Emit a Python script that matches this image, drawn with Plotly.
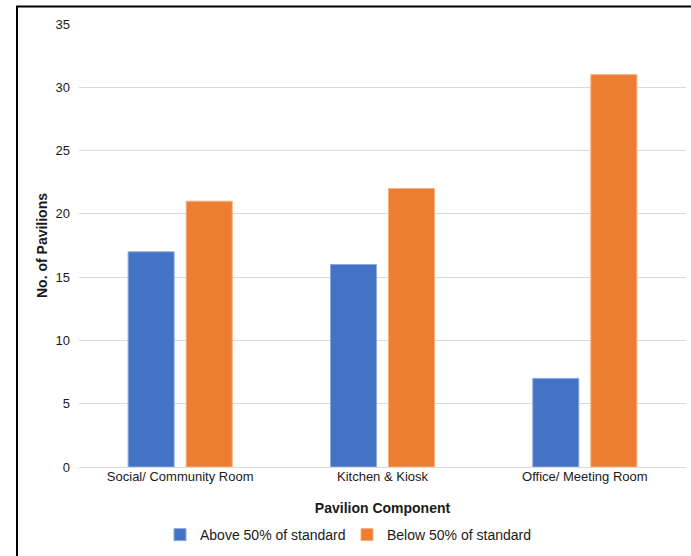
import plotly.graph_objects as go

categories = ["Social/ Community Room", "Kitchen & Kiosk", "Office/ Meeting Room"]
above_50 = [17, 16, 7]
below_50 = [21, 22, 31]
y_ticks = [0, 5, 10, 15, 20, 25, 30, 35]

W, H = 691, 556
L, R, T, B = 79, 5, 24, 89
pw, ph = W - L - R, H - T - B


def px_x(x):
    return (x - L) / pw


def px_y(y):
    return (H - B - y) / ph


fig = go.Figure()
fig.add_trace(go.Bar(
    x=categories, y=above_50, name="Above 50% of standard",
    marker=dict(color="#4472C4", line=dict(color="#8FA9DC", width=1))))
fig.add_trace(go.Bar(
    x=categories, y=below_50, name="Below 50% of standard",
    marker=dict(color="#ED7D31", line=dict(color="#F4B183", width=1))))

# frame of the original screenshot: only left and top edges are in view
fig.add_shape(type="rect", xref="paper", yref="paper", layer="above",
              x0=px_x(17), x1=px_x(W + 20), y0=px_y(6.5), y1=px_y(H + 20),
              line=dict(color="black", width=2), fillcolor="rgba(0,0,0,0)")

font = "Liberation Sans, Arial, sans-serif"
fig.update_layout(
    width=W, height=H,
    margin=dict(l=L, r=R, t=T, b=B),
    paper_bgcolor="white", plot_bgcolor="white",
    font=dict(family=font, size=13, color="#1a1a1a"),
    barmode="group", bargap=0.426, bargroupgap=0.207,
    showlegend=True,
    legend=dict(orientation="h", x=px_x(160), xanchor="left", y=px_y(535),
                yanchor="middle", font=dict(size=14), itemwidth=30,
                entrywidth=142, traceorder="normal"),
)
fig.update_xaxes(showgrid=False, showline=False, ticks="",
                 tickfont=dict(size=13),
                 title=dict(text="<b>Pavilion Component</b>", font=dict(size=14), standoff=20))
fig.update_yaxes(range=[0, 35], tickvals=y_ticks, showgrid=True,
                 gridcolor="#D9D9D9", gridwidth=1, zeroline=True,
                 zerolinecolor="#D9D9D9", zerolinewidth=1,
                 ticklabelstandoff=8, tickfont=dict(size=13),
                 title=dict(text="<b>No. of Pavilions</b>", font=dict(size=14), standoff=4))

# page body has a default 8px margin; drop it so the figure sits at the window corner
fig.write_html("out.html", config={"displayModeBar": False},
               post_script="document.body.style.margin='0';")
